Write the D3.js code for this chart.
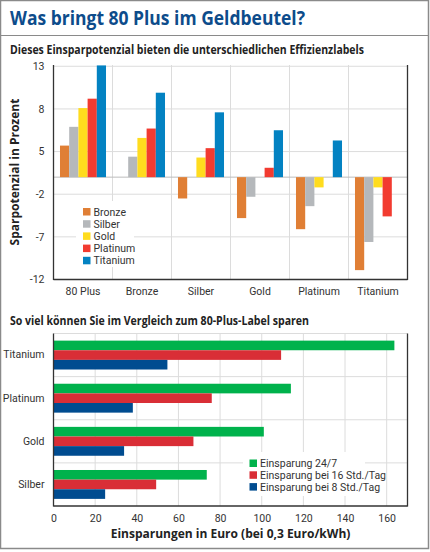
<!DOCTYPE html>
<html>
<head>
<meta charset="utf-8">
<script src="https://cdn.jsdelivr.net/npm/d3@7"></script>
<style>
  body { margin: 0; background: #fff; }
  svg text { font-family: "Liberation Sans Narrow", Roboto, sans-serif; }
</style>
</head>
<body>
<div id="chart-area"></div>
<script>
let width = 430;
let height = 552;

// Obere Grafik: Einsparpotenzial in Prozent
let groups = ["80 Plus", "Bronze", "Silber", "Gold", "Platinum", "Titanium"];
let labels = ["Bronze", "Silber", "Gold", "Platinum", "Titanium"];
let bronzeVals = [3.7, 0, -2.5, -4.8, -6.1, -10.9];
let silberVals = [5.9, 2.4, 0, -2.3, -3.4, -7.6];
let goldVals = [8.1, 4.6, 2.3, 0, -1.2, -1.2];
let platinumVals = [9.2, 5.7, 3.4, 1.1, 0, -4.6];
let titaniumVals = [13.1, 9.9, 7.6, 5.5, 4.3, 0];
let yTickValues = [13, 8, 3, -2, -7, -12];
let yTickLabels = ["13", "8", "5", "-2", "-7", "-12"];

// Untere Grafik: Einsparungen in Euro
let savingCats = ["Titanium", "Platinum", "Gold", "Silber"];
let savingSeries = ["Einsparung 24/7", "Einsparung bei 16 Std./Tag", "Einsparung bei 8 Std./Tag"];
let save247 = [163.7, 114, 101, 73.6];
let save16h = [109.3, 76, 67.2, 49.3];
let save8h = [54.7, 38.1, 33.9, 24.8];
let xTickValues = [0, 20, 40, 60, 80, 100, 120, 140, 160];

let labelColors = ["#e07f35", "#b5b8bb", "#ffdc1e", "#f23b30", "#0382c2"];
let savingColors = ["#00b24c", "#d92e36", "#004c90"];

let svg = d3.select("#chart-area")
	.append("svg")
	.attr("width", width)
	.attr("height", height);

// Rahmen
svg.append("rect")
	.attr("x", 0.5).attr("y", 0.5)
	.attr("width", 428).attr("height", 548)
	.attr("fill", "#fff")
	.attr("stroke", "#8a8a8a")
	.attr("stroke-width", 1.5);

svg.append("line")
	.attr("x1", 0).attr("x2", 429)
	.attr("y1", 35.5).attr("y2", 35.5)
	.attr("stroke", "#8a8a8a")
	.attr("stroke-width", 1.2);

svg.append("text")
	.attr("x", 10).attr("y", 25)
	.attr("textLength", 295)
	.attr("lengthAdjust", "spacingAndGlyphs")
	.style("font-family", "'Open Sans', sans-serif")
	.style("font-size", "19px")
	.style("font-weight", "bold")
	.attr("fill", "#0d4c8b")
	.text("Was bringt 80 Plus im Geldbeutel?");

svg.append("text")
	.attr("x", 10).attr("y", 54)
	.attr("textLength", 354)
	.attr("lengthAdjust", "spacingAndGlyphs")
	.style("font-family", "'Open Sans', sans-serif")
	.style("font-size", "11.5px")
	.style("font-weight", "bold")
	.attr("fill", "#222")
	.text("Dieses Einsparpotenzial bieten die unterschiedlichen Effizienzlabels");

svg.append("text")
	.attr("x", 10).attr("y", 325)
	.attr("textLength", 299)
	.attr("lengthAdjust", "spacingAndGlyphs")
	.style("font-family", "'Open Sans', sans-serif")
	.style("font-size", "11.5px")
	.style("font-weight", "bold")
	.attr("fill", "#222")
	.text("So viel können Sie im Vergleich zum 80-Plus-Label sparen");

drawTopChart();
drawBottomChart();

function styleTicks(axisG) {
	axisG.select(".domain").remove();
	axisG.selectAll("text")
		.style("font-size", "10.5px")
		.style("font-family", "'Liberation Sans Narrow', Roboto, sans-serif")
		.attr("fill", "#333");
}

function drawTopChart() {
	let left = 53.5, right = 407.5, top = 65, bottom = 279.5;

	let x0 = d3.scaleBand()
		.domain(groups)
		.range([left, right])
		.paddingInner(0.22)
		.paddingOuter(0.11);

	let x1 = d3.scaleBand()
		.domain(labels)
		.range([0, x0.bandwidth()]);

	let y = d3.scaleLinear()
		.domain([-12, 13.15])
		.range([bottom, top]);

	let series = [bronzeVals, silberVals, goldVals, platinumVals, titaniumVals];

	let g = svg.append("g");

	// Gitterlinien
	g.selectAll(".hgrid")
		.data(yTickValues)
		.enter()
		.append("line")
		.attr("x1", left).attr("x2", right)
		.attr("y1", d => y(d)).attr("y2", d => y(d))
		.attr("stroke", "#dcdcdc");

	let step = x0.step();
	g.selectAll(".vgrid")
		.data(d3.range(1, groups.length))
		.enter()
		.append("line")
		.attr("x1", d => left + d * step).attr("x2", d => left + d * step)
		.attr("y1", top).attr("y2", bottom)
		.attr("stroke", "#dcdcdc");

	g.append("line")
		.attr("x1", left).attr("x2", right)
		.attr("y1", y(0)).attr("y2", y(0))
		.attr("stroke", "#bdbdbd");

	// Balken
	labels.forEach((lab, i) => {
		g.selectAll(".bar-" + i)
			.data(series[i].map((v, j) => ({ group: groups[j], value: v })).filter(d => d.value !== 0))
			.enter()
			.append("rect")
			.attr("x", d => x0(d.group) + x1(lab))
			.attr("width", x1.bandwidth())
			.attr("y", d => y(Math.max(0, d.value)))
			.attr("height", d => Math.abs(y(d.value) - y(0)))
			.attr("fill", labelColors[i]);
	});

	// Achsen
	g.append("line")
		.attr("x1", left).attr("x2", left)
		.attr("y1", top).attr("y2", bottom + 0.5)
		.attr("stroke", "#333").attr("stroke-width", 1.3);
	g.append("line")
		.attr("x1", left).attr("x2", right)
		.attr("y1", bottom).attr("y2", bottom)
		.attr("stroke", "#333").attr("stroke-width", 1.3);
	g.append("line")
		.attr("x1", right).attr("x2", right)
		.attr("y1", top).attr("y2", bottom + 0.5)
		.attr("stroke", "#333").attr("stroke-width", 1.3);

	let yAxis = d3.axisLeft(y)
		.tickValues(yTickValues)
		.tickSize(0)
		.tickPadding(9)
		.tickFormat((d, i) => yTickLabels[i]);

	styleTicks(g.append("g")
		.attr("transform", `translate(${left}, 0)`)
		.call(yAxis));

	let xAxis = d3.axisBottom(x0).tickSize(0).tickPadding(8);
	styleTicks(g.append("g")
		.attr("transform", `translate(0, ${bottom})`)
		.call(xAxis));

	// Achsentitel
	svg.append("text")
		.attr("transform", `translate(19, 172) rotate(-90)`)
		.attr("text-anchor", "middle")
		.style("font-family", "'Open Sans', sans-serif")
		.style("font-size", "12px")
		.style("font-weight", "bold")
		.attr("fill", "#222")
		.text("Sparpotenzial in Prozent");

	// Legende
	let leg = g.append("g").attr("transform", "translate(76, 201)");
	leg.append("rect")
		.attr("width", 58).attr("height", 66)
		.attr("fill", "#fff");
	labels.forEach((lab, i) => {
		leg.append("rect")
			.attr("x", 7).attr("y", 7 + i * 12.2)
			.attr("width", 7.5).attr("height", 7.5)
			.attr("fill", labelColors[i]);
		leg.append("text")
			.attr("x", 17.5).attr("y", 14.5 + i * 12.2)
			.style("font-size", "10.5px")
			.attr("fill", "#333")
			.text(lab);
	});
}

function drawBottomChart() {
	let left = 53.5, right = 407.5, top = 333.5, bottom = 506;

	let x = d3.scaleLinear()
		.domain([0, 170])
		.range([left, right]);

	let y0 = d3.scaleBand()
		.domain(savingCats)
		.range([top, bottom])
		.paddingInner(0.33)
		.paddingOuter(0.165);

	let y1 = d3.scaleBand()
		.domain(savingSeries)
		.range([0, y0.bandwidth()]);

	let series = [save247, save16h, save8h];

	let g = svg.append("g");

	g.selectAll(".vgrid")
		.data(xTickValues.slice(1))
		.enter()
		.append("line")
		.attr("x1", d => x(d)).attr("x2", d => x(d))
		.attr("y1", top).attr("y2", bottom)
		.attr("stroke", "#dcdcdc");

	let step = y0.step();
	g.selectAll(".hgrid")
		.data(d3.range(0, savingCats.length))
		.enter()
		.append("line")
		.attr("x1", left).attr("x2", right)
		.attr("y1", d => top + d * step).attr("y2", d => top + d * step)
		.attr("stroke", "#dcdcdc");

	savingSeries.forEach((s, i) => {
		g.selectAll(".sbar-" + i)
			.data(series[i].map((v, j) => ({ cat: savingCats[j], value: v })))
			.enter()
			.append("rect")
			.attr("x", left)
			.attr("y", d => y0(d.cat) + y1(s))
			.attr("width", d => x(d.value) - left)
			.attr("height", y1.bandwidth())
			.attr("fill", savingColors[i]);
	});

	g.append("line")
		.attr("x1", left).attr("x2", left)
		.attr("y1", top).attr("y2", bottom + 0.5)
		.attr("stroke", "#333").attr("stroke-width", 1.3);
	g.append("line")
		.attr("x1", left).attr("x2", right)
		.attr("y1", bottom).attr("y2", bottom)
		.attr("stroke", "#333").attr("stroke-width", 1.3);
	g.append("line")
		.attr("x1", right).attr("x2", right)
		.attr("y1", top).attr("y2", bottom + 0.5)
		.attr("stroke", "#333").attr("stroke-width", 1.3);

	let xAxis = d3.axisBottom(x).tickValues(xTickValues).tickSize(0).tickPadding(9);
	styleTicks(g.append("g")
		.attr("transform", `translate(0, ${bottom})`)
		.call(xAxis));

	let yAxis = d3.axisLeft(y0).tickSize(0).tickPadding(9);
	styleTicks(g.append("g")
		.attr("transform", `translate(${left}, 0)`)
		.call(yAxis));

	svg.append("text")
		.attr("x", (left + right) / 2).attr("y", 538)
		.attr("text-anchor", "middle")
		.style("font-family", "'Open Sans', sans-serif")
		.style("font-size", "12px")
		.style("font-weight", "bold")
		.attr("fill", "#222")
		.text("Einsparungen in Euro (bei 0,3 Euro/kWh)");

	let leg = g.append("g").attr("transform", "translate(243, 452)");
	leg.append("rect")
		.attr("width", 122).attr("height", 44)
		.attr("fill", "#fff");
	savingSeries.forEach((s, i) => {
		leg.append("rect")
			.attr("x", 6.5).attr("y", 7.5 + i * 11.8)
			.attr("width", 7.5).attr("height", 7.5)
			.attr("fill", savingColors[i]);
		leg.append("text")
			.attr("x", 17).attr("y", 15 + i * 11.8)
			.style("font-size", "10.5px")
			.attr("fill", "#333")
			.text(s);
	});
}
</script>
</body>
</html>
